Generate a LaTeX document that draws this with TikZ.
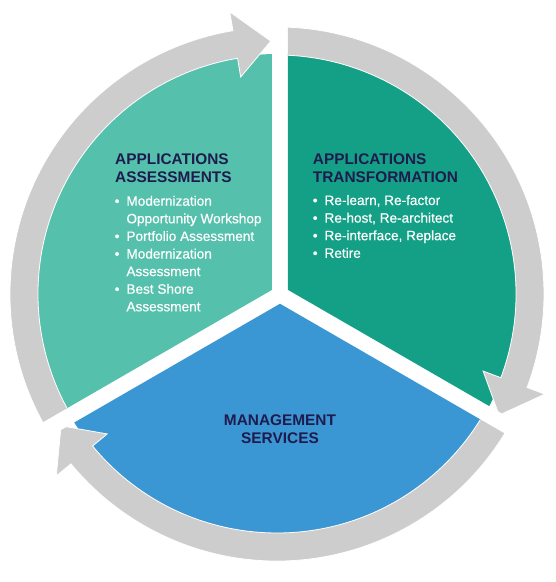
\documentclass[tikz,border=0pt]{standalone}
\usepackage{fontspec}
\setmainfont{Liberation Sans}
\newfontfamily\itemfont[FakeBold=0.5]{Liberation Sans}
\usetikzlibrary{calc}

\definecolor{segAssess}{HTML}{55C1AC}
\definecolor{segTransf}{HTML}{14A086}
\definecolor{segMgmt}{HTML}{3B96D4}
\definecolor{ringGrey}{HTML}{CDCDCD}
\definecolor{ttlNavy}{HTML}{1F1B4D}

\begin{document}
\begin{tikzpicture}[
  x=1pt, y=1pt,
  seg/.style={draw=none},
  ringarrow/.style={fill=ringGrey, draw=white, line width=0.8pt, line join=miter},
  ttl/.style={text=ttlNavy, font=\fontsize{15.4}{18.7}\selectfont\bfseries, inner sep=0pt},
  blist/.style={text=white, font=\itemfont\fontsize{13.6}{17.6}\selectfont, inner sep=0pt, anchor=base west}
]
  \useasboundingbox (-277,-288) rectangle (279,294);

  % centre of the three gaps, and the inner corner of each segment
  \coordinate (gap) at (3,-0.5);
  \coordinate (cA) at ($(gap)+(150:9.24)$);
  \coordinate (cT) at ($(gap)+(30:9.24)$);
  \coordinate (cM) at ($(gap)+(270:9.24)$);

  % Assessments segment and its arrow
  \begin{scope}
    \clip (cA) -- ($(cA)+(90:600)$) -- ($(cA)+(150:600)$) -- ($(cA)+(210:600)$) -- cycle;
    \fill[segAssess, seg] (0,0) circle (240);
    \path[ringarrow] (215:267) arc[start angle=215, end angle=99.5, radius=267]
      -- (99.5:286) -- (91.4:253) -- (99.5:220) -- (99.5:239)
      arc[start angle=99.5, end angle=215, radius=239] -- cycle;
  \end{scope}

  % Transformation segment and its arrow
  \begin{scope}
    \clip (cT) -- ($(cT)+(-30:600)$) -- ($(cT)+(30:600)$) -- ($(cT)+(90:600)$) -- cycle;
    \fill[segTransf, seg] (0,0) circle (240);
    \path[ringarrow] (95:267) arc[start angle=95, end angle=-20.5, radius=267]
      -- (-20.5:286) -- (-28.6:253) -- (-20.5:220) -- (-20.5:239)
      arc[start angle=-20.5, end angle=95, radius=239] -- cycle;
  \end{scope}

  % Management segment and its arrow
  \begin{scope}
    \clip (cM) -- ($(cM)+(210:600)$) -- ($(cM)+(270:600)$) -- ($(cM)+(330:600)$) -- cycle;
    \fill[segMgmt, seg] (0,0) circle (240);
    \path[ringarrow] (335:267) arc[start angle=335, end angle=219.5, radius=267]
      -- (219.5:286) -- (211.4:253) -- (219.5:220) -- (219.5:239)
      arc[start angle=219.5, end angle=335, radius=239] -- cycle;
  \end{scope}

  % Titles
  \node[ttl, anchor=base west] (ttlAssess) at (-162,130)
    {\begin{tabular}[t]{@{}l@{}}APPLICATIONS\\ASSESSMENTS\end{tabular}};
  \node[ttl, anchor=base west] (ttlTransf) at (35.7,130)
    {\begin{tabular}[t]{@{}l@{}}APPLICATIONS\\TRANSFORMATION\end{tabular}};
  \node[ttl, anchor=base] (ttlMgmt) at (3,-131)
    {\begin{tabular}[t]{@{}c@{}}MANAGEMENT\\SERVICES\end{tabular}};

  % Bullet lists
  \node[blist] (listAssess) at (-162.5,88.3)
    {\begin{tabular}[t]{@{}l@{\hspace{7pt}}l@{}}
      \textbullet & Modernization\\
                  & Opportunity Workshop\\
      \textbullet & Portfolio Assessment\\
      \textbullet & Modernization\\
                  & Assessment\\
      \textbullet & Best Shore\\
                  & Assessment
    \end{tabular}};
  \node[blist] (listTransf) at (35.6,89)
    {\begin{tabular}[t]{@{}l@{\hspace{7pt}}l@{}}
      \textbullet & Re-learn, Re-factor\\
      \textbullet & Re-host, Re-architect\\
      \textbullet & Re-interface, Replace\\
      \textbullet & Retire
    \end{tabular}};
\end{tikzpicture}
\end{document}
